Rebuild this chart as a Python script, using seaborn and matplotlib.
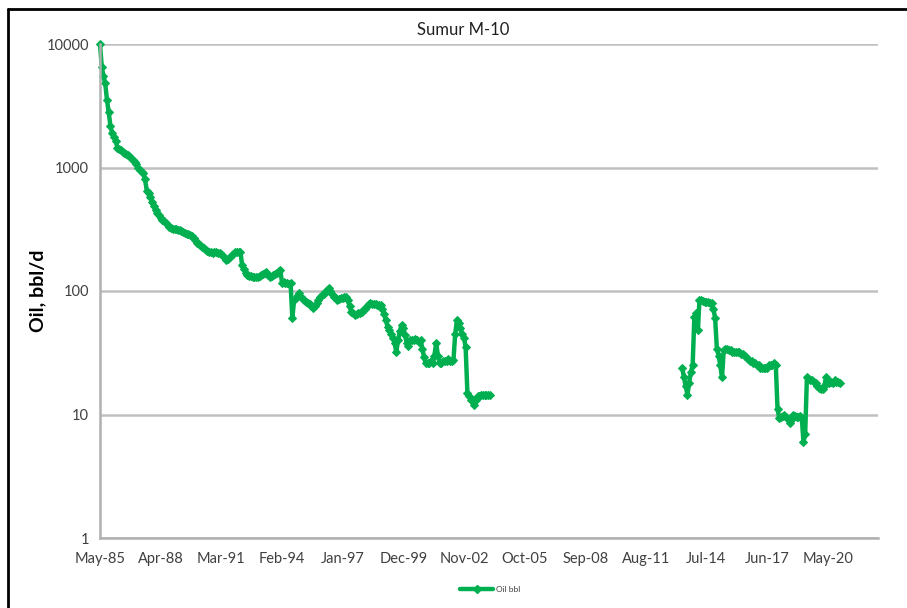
import numpy as np
import pandas as pd
import matplotlib
matplotlib.use("Agg")
import matplotlib.pyplot as plt
import matplotlib.dates as mdates
from matplotlib.lines import Line2D
import seaborn as sns

# ---- data (monthly oil rate, bbl/d) ----
seg1_start = "1985-05-01"
seg1_oil = [
    10000, 6500, 5500, 4800, 3500, 2800, 2150, 1900, 1750, 1650, 1450, 1420,
    1380, 1330, 1300, 1290, 1260, 1230, 1200, 1150, 1100, 1060, 1000, 950,
    920, 900, 800, 650, 620, 580, 530, 490, 450, 430, 410, 390,
    375, 370, 355, 345, 330, 325, 320, 318, 315, 312, 310, 305,
    300, 295, 292, 288, 285, 280, 270, 260, 245, 240, 235, 228,
    222, 215, 210, 207, 205, 204, 206, 205, 204, 204, 200, 192,
    185, 178, 182, 188, 195, 200, 205, 207, 207, 207, 163, 150,
    140, 135, 133, 132, 131, 130, 130, 130, 132, 135, 138, 140,
    142, 136, 130, 132, 135, 138, 140, 145, 148, 116, 118, 117,
    116, 115, 116, 60, 85, 88, 92, 96, 90, 86, 84, 82,
    80, 78, 75, 73, 76, 80, 85, 89, 92, 95, 98, 102,
    105, 100, 95, 90, 87, 85, 86, 87, 88, 89, 89, 85,
    75, 68, 66, 64, 65, 66, 66, 68, 70, 72, 76, 78,
    80, 79, 78, 78, 77, 77, 77, 72, 65, 58, 51, 48,
    45, 42, 38, 32, 40, 47, 53, 50, 44, 38, 36, 40,
    40, 40, 41, 40, 39, 40, 34, 29, 26, 26, 26, 27,
    26, 30, 38, 30, 26, 26, 27, 27, 27, 28, 27, 27,
    27.5, 45, 58, 55, 50, 45, 42, 35, 15, 14, 13, 13,
    12, 13, 14, 14, 14.5, 14.4, 14.5, 14.3, 14.4, 14.4,
]
seg2_start = "2013-05-01"
seg2_oil = [
    24, 20, 17, 14.4, 18, 22, 25, 62, 66, 48, 85, 84,
    83, 82, 82, 81, 80, 80, 72, 60, 34, 30, 25, 20,
    33, 34, 34, 33, 33, 32, 32, 32, 32, 32, 31, 31,
    30, 29, 28, 27, 27, 26, 26, 25, 25, 24, 24, 24,
    24, 24, 25, 25, 25, 26, 25, 11, 9.4, 9.5, 9.8, 10,
    9.5, 9.2, 8.5, 9.0, 9.9, 9.8, 9.6, 9.5, 9.7, 9.3, 6, 7,
    20, 19.5, 19, 19, 18.5, 18, 17, 16.5, 16, 16, 17, 20,
    19, 18, 18.5, 18, 19, 18.5, 18.5, 18,
]
y_ticks = [1, 10, 100, 1000, 10000]
x_tick_start = "1985-05-01"
x_tick_step_months = 35
x_tick_count = 13
title = "Sumur M-10"
ylabel = "Oil, bbl/d"
series_name = "Oil bbl"

df1 = pd.DataFrame({"date": pd.date_range(seg1_start, periods=len(seg1_oil), freq="MS"),
                    "oil": seg1_oil})
df2 = pd.DataFrame({"date": pd.date_range(seg2_start, periods=len(seg2_oil), freq="MS"),
                    "oil": seg2_oil})

green = "#00B050"
font = ["Lato", "DejaVu Sans"]
sns.set_style("white")
plt.rcParams["font.family"] = font

W, H = 907, 608
fig = plt.figure(figsize=(W / 100, H / 100), dpi=100)
ax = fig.add_axes([100 / W, 1 - 538 / H, (878 - 100) / W, (538 - 44) / H])

kw = dict(x="date", y="oil", color=green, linewidth=3.2, marker="D",
          markersize=4.5, markeredgecolor=green, ax=ax, clip_on=False)
sns.lineplot(data=df1, **kw)
sns.lineplot(data=df2, **kw)

ax.set_yscale("log")
ax.set_ylim(1, 10000)
ax.set_yticks(y_ticks)
ax.set_yticklabels([str(v) for v in y_ticks])
ax.yaxis.set_minor_locator(matplotlib.ticker.NullLocator())

xt = pd.date_range(x_tick_start, periods=x_tick_count, freq=f"{x_tick_step_months}MS")
ax.set_xticks(xt)
ax.set_xticklabels([d.strftime("%b-%y") for d in xt])
ax.set_xlim(pd.Timestamp("1985-05-01"), pd.Timestamp("2022-10-01"))

ax.grid(axis="y", color="#c0c0c0", linewidth=1.8)
ax.set_axisbelow(True)
for s in ["top", "right"]:
    ax.spines[s].set_visible(False)
for s in ["left", "bottom"]:
    ax.spines[s].set_color("#b0b0b0")
    ax.spines[s].set_linewidth(1.8)
ax.tick_params(axis="both", direction="out", length=4, width=1.5, color="#b0b0b0",
               labelsize=10.5, labelcolor="#404040", pad=4)
ax.tick_params(axis="x", pad=6)

ax.set_xlabel("")
ax.set_ylabel(ylabel, fontsize=14, fontweight="bold", color="black", labelpad=0)
fig.text(463 / W, 1 - 30 / H, title, ha="center", va="center", fontsize=12,
         color="#202020")

handle = Line2D([], [], color=green, linewidth=3.2, marker="D", markersize=4)
fig.legend([handle], [series_name], loc="center", bbox_to_anchor=(490 / W, 1 - 589 / H),
           frameon=False, fontsize=6, handlelength=4, handletextpad=0.3,
           labelcolor="#404040")

# chart border (left and top edges)
fig.add_artist(Line2D([8 / W, 8 / W], [0, 1 - 9 / H], transform=fig.transFigure,
                      color="black", linewidth=2))
fig.add_artist(Line2D([8 / W, 1], [1 - 9 / H, 1 - 9 / H], transform=fig.transFigure,
                      color="black", linewidth=2))

fig.savefig("out.png", dpi=100)
